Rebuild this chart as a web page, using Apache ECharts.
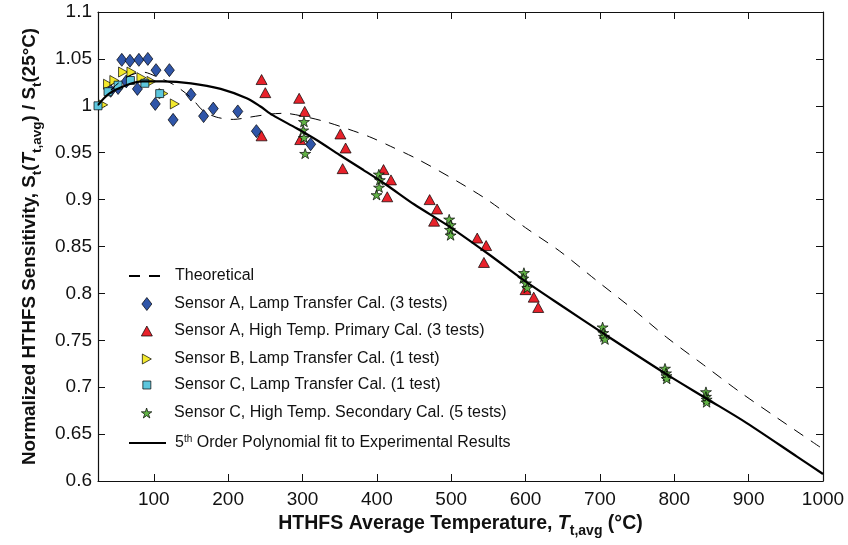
<!DOCTYPE html>
<html>
<head>
<meta charset="utf-8">
<script src="https://cdn.jsdelivr.net/npm/echarts@6/dist/echarts.min.js"></script>
<style>
  html, body { margin: 0; padding: 0; background: #fff; }
  #chart { width: 848px; height: 545px; }
</style>
</head>
<body>
<div id="chart"></div>
<script>
// Axis ticks
const xTicks = [100, 200, 300, 400, 500, 600, 700, 800, 900, 1000];
const yTicks = [0.6, 0.65, 0.7, 0.75, 0.8, 0.85, 0.9, 0.95, 1, 1.05, 1.1];

// Theoretical curve [T (degC), S/S25]
const theoretical = [
  [25, 1.000], [45, 1.019], [65, 1.031], [85, 1.036], [104, 1.031], [128, 1.022],
  [151, 1.008], [166, 0.995], [184, 0.988], [207, 0.9855], [230, 0.988], [255, 0.991],
  [275, 0.992], [300, 0.989], [331, 0.983], [362, 0.975], [390, 0.967], [418, 0.957],
  [455, 0.943], [507, 0.920], [550, 0.899], [600, 0.870], [646, 0.845], [695, 0.814],
  [743, 0.784], [790, 0.753], [839, 0.724], [888, 0.695], [937, 0.668], [987, 0.641],
  [1000, 0.634]
];

// 5th order polynomial fit, sampled
const polyFit = [
  [25, 1.001], [40, 1.013], [63, 1.022], [85, 1.026], [112, 1.026], [150, 1.024],
  [190, 1.018], [225, 1.008], [243, 0.9995], [260, 0.990], [292, 0.976], [319, 0.9635],
  [350, 0.9475], [382, 0.9315], [413, 0.9156], [450, 0.895], [498, 0.871], [550, 0.842],
  [597, 0.8144], [650, 0.786], [704, 0.7576], [787, 0.715], [843, 0.688], [897, 0.662],
  [965, 0.626], [1000, 0.6075]
];

// Measurements
const sensorALamp = [
  [42, 1.016], [52, 1.019], [63, 1.026],
  [57, 1.049], [68, 1.048], [80, 1.049], [92, 1.050], [103, 1.038], [121, 1.038],
  [78, 1.018], [102, 1.002], [126, 0.985], [150, 1.012], [167, 0.989], [180, 0.997],
  [213, 0.994], [238, 0.973], [311, 0.959]
];
const sensorAPrimary = [
  [245, 1.028], [250, 1.014], [245, 0.968],
  [295.5, 1.008], [303, 0.994], [297, 0.964],
  [351, 0.970], [358, 0.955], [354, 0.933],
  [409, 0.932], [419, 0.921], [414, 0.903],
  [471, 0.900], [481, 0.890], [477, 0.877],
  [535, 0.859], [547, 0.851], [544, 0.833],
  [600, 0.804], [611, 0.796], [617, 0.785]
];
const sensorBLamp = [
  [32, 1.001], [38.5, 1.023], [47, 1.027], [58.7, 1.036], [70, 1.036],
  [83.4, 1.030], [96.9, 1.026], [113, 1.013], [128.3, 1.002]
];
const sensorCLamp = [
  [25, 1.000], [38.5, 1.015], [52, 1.022], [68.6, 1.027], [88, 1.024], [108, 1.013]
];
const sensorCSecondary = [
  [302, 0.983], [301, 0.974], [302, 0.966], [303.6, 0.949],
  [402.7, 0.927], [404, 0.921], [403, 0.913], [399.6, 0.905],
  [497.3, 0.879], [499.2, 0.873], [498.3, 0.868], [499.2, 0.862],
  [597.8, 0.822], [596.9, 0.816], [600.5, 0.811], [602.3, 0.806],
  [703.6, 0.764], [704.5, 0.758], [705.5, 0.754], [706.8, 0.751],
  [787.5, 0.720], [788.9, 0.715], [789.5, 0.712], [789.8, 0.709],
  [842.6, 0.695], [842.6, 0.690], [843.5, 0.687], [843.5, 0.684]
];

const FONT = "'Liberation Sans', Arial, Helvetica, sans-serif";

const NAMES = {
  theory: 'Theoretical',
  aLamp: 'Sensor A, Lamp Transfer Cal. (3 tests)',
  aPrim: 'Sensor A, High Temp. Primary Cal. (3 tests)',
  bLamp: 'Sensor B, Lamp Transfer Cal. (1 test)',
  cLamp: 'Sensor C, Lamp Transfer Cal. (1 test)',
  cSec: 'Sensor C, High Temp. Secondary Cal. (5 tests)',
  fit: '5th Order Polynomial fit to Experimental Results'
};

// Marker shapes
const SYM = {
  diamond: 'path://M5,0L10,6.5L5,13L0,6.5Z',
  triUp: 'path://M5.5,0L11,10L0,10Z',
  triRight: 'path://M0,0L9,5L0,10Z',
  square: 'path://M0,0H8V8H0Z',
  star: 'path://M10,0L12.245,6.91L19.51,6.91L13.633,11.18L15.88,18.09L10,13.82L4.12,18.09L6.367,11.18L0.49,6.91L7.755,6.91Z'
};

const COLORS = {
  aLamp: '#2f55a8', aPrim: '#e8222b', bLamp: '#f3e92e', cLamp: '#5cc6dd', cSec: '#62b346'
};

function scatter(name, data, symbol, size, color) {
  return {
    name, type: 'scatter', data, symbol, symbolSize: size,
    itemStyle: { color, borderColor: '#000', borderWidth: 0.7, opacity: 1 },
    emphasis: { disabled: true }
  };
}

const series = [
  {
    name: NAMES.theory, type: 'line', data: theoretical, smooth: 0.3,
    symbol: 'none', showSymbol: false,
    lineStyle: { color: '#000', width: 1, type: [11, 9] },
    emphasis: { disabled: true }
  },
  scatter(NAMES.aLamp, sensorALamp, SYM.diamond, [10, 13], COLORS.aLamp),
  scatter(NAMES.aPrim, sensorAPrimary, SYM.triUp, [11, 10], COLORS.aPrim),
  scatter(NAMES.bLamp, sensorBLamp, SYM.triRight, [9, 10], COLORS.bLamp),
  scatter(NAMES.cLamp, sensorCLamp, SYM.square, [8, 8], COLORS.cLamp),
  scatter(NAMES.cSec, sensorCSecondary, SYM.star, [11, 10], COLORS.cSec),
  {
    name: NAMES.fit, type: 'line', data: polyFit, smooth: 0.3,
    symbol: 'none', showSymbol: false,
    lineStyle: { color: '#000', width: 2.2, type: 'solid' },
    emphasis: { disabled: true }
  }
];

// Legend rows: one component per row so every icon keeps its own size.
// w = drawn icon width (line rows span the full 37px slot)
const ICON_SLOT = 37;
const legendRows = [
  { name: NAMES.theory, y: 277, w: 37, h: 10, color: null },
  { name: NAMES.aLamp, y: 305, w: 10, h: 13, color: COLORS.aLamp },
  { name: NAMES.aPrim, y: 332, w: 11, h: 10, color: COLORS.aPrim },
  { name: NAMES.bLamp, y: 360, w: 9, h: 10, color: COLORS.bLamp },
  { name: NAMES.cLamp, y: 386, w: 8, h: 8, color: COLORS.cLamp },
  { name: NAMES.cSec, y: 414, w: 11, h: 10, color: COLORS.cSec },
  { name: NAMES.fit, y: 443, w: 37, h: 10, color: null }
];

const legend = legendRows.map(r => ({
  data: [r.name],
  left: 128 + (ICON_SLOT - r.w) / 2,
  top: r.y - 9,
  orient: 'vertical',
  padding: 0,
  itemGap: 0,
  itemWidth: ICON_SLOT,
  itemHeight: r.h,
  selectedMode: false,
  itemStyle: r.color
    ? { color: r.color, borderColor: '#000', borderWidth: 0.7, opacity: 1 }
    : { color: 'rgba(0,0,0,0)', borderColor: 'rgba(0,0,0,0)', borderWidth: 0, opacity: 0 },
  formatter: n => n === NAMES.fit
    ? '{n|5}{sup|th}{n| Order Polynomial fit to Experimental Results}'
    : '{n|' + n + '}',
  textStyle: {
    fontFamily: FONT, fontSize: 16, color: '#111', padding: [0, 0, 0, 4],
    rich: {
      n: { fontFamily: FONT, fontSize: 16, color: '#111', lineHeight: 18, verticalAlign: 'middle' },
      sup: { fontFamily: FONT, fontSize: 10, color: '#111', lineHeight: 18, verticalAlign: 'top' }
    }
  }
}));

function titleRich(size, subSize) {
  return {
    b: { fontFamily: FONT, fontSize: size, fontWeight: 'bold', color: '#111', lineHeight: 28, verticalAlign: 'middle' },
    i: { fontFamily: FONT, fontSize: size, fontWeight: 'bold', fontStyle: 'italic', color: '#111', lineHeight: 28, verticalAlign: 'middle' },
    s: { fontFamily: FONT, fontSize: subSize, fontWeight: 'bold', color: '#111', lineHeight: 28, verticalAlign: 'bottom' }
  };
}

const axisLineStyle = { color: '#111', width: 1.2 };

const option = {
  backgroundColor: '#fff',
  animation: false,
  grid: { left: 98, right: 25, top: 12, bottom: 64, outerBoundsMode: 'none' },
  legend,
  xAxis: [
    {
      type: 'value', min: 25, max: 1000, position: 'bottom',
      axisLine: { show: true, onZero: false, lineStyle: axisLineStyle },
      axisTick: { show: true, inside: true, length: 7, customValues: xTicks, lineStyle: { color: '#111' } },
      axisLabel: {
        customValues: xTicks, fontFamily: FONT, fontSize: 19, color: '#111', margin: 9,
        formatter: v => String(v)
      },
      splitLine: { show: false },
      name: '{b|HTHFS Average Temperature, }{i|T}{s|t,avg}{b| (°C)}',
      nameLocation: 'middle', nameGap: 25,
      nameTextStyle: { rich: titleRich(19.5, 14) }
    },
    {
      type: 'value', min: 25, max: 1000, position: 'top',
      axisLine: { show: true, onZero: false, lineStyle: axisLineStyle },
      axisTick: { show: true, inside: true, length: 7, customValues: xTicks, lineStyle: { color: '#111' } },
      axisLabel: { show: false },
      splitLine: { show: false }
    }
  ],
  yAxis: [
    {
      type: 'value', min: 0.6, max: 1.1, interval: 0.05, position: 'left',
      axisLine: { show: true, onZero: false, lineStyle: axisLineStyle },
      axisTick: { show: true, inside: true, length: 7, customValues: yTicks, lineStyle: { color: '#111' } },
      axisLabel: {
        customValues: yTicks, fontFamily: FONT, fontSize: 19, color: '#111', margin: 6,
        formatter: v => String(+v.toFixed(2))
      },
      splitLine: { show: false },
      name: '{b|Normalized HTHFS Sensitivity, S}{s|t}{b|(}{i|T}{s|t,avg}{b|) / S}{s|t}{b|(25°C)}',
      nameLocation: 'middle', nameGap: 46, nameRotate: 90,
      nameTextStyle: { rich: titleRich(18.8, 13.5) }
    },
    {
      type: 'value', min: 0.6, max: 1.1, interval: 0.05, position: 'right',
      axisLine: { show: true, onZero: false, lineStyle: axisLineStyle },
      axisTick: { show: true, inside: true, length: 7, customValues: yTicks, lineStyle: { color: '#111' } },
      axisLabel: { show: false },
      splitLine: { show: false }
    }
  ],
  series
};

const chart = echarts.init(document.getElementById('chart'), null, { renderer: 'canvas' });
chart.setOption(option);
</script>
</body>
</html>
